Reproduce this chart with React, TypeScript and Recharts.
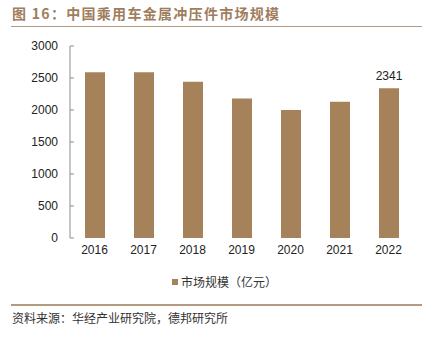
import { BarChart, Bar, XAxis, YAxis, LabelList } from 'recharts';

const years = ['2016', '2017', '2018', '2019', '2020', '2021', '2022'];
const marketSize = [2590, 2590, 2440, 2180, 2000, 2130, 2341];
const yTicks = [0, 500, 1000, 1500, 2000, 2500, 3000];
const boundaryTicks = [0, 1, 2, 3, 4, 5, 6, 7];

const BAR_COLOR = '#a6825a';
const BROWN = '#a07d5d';
const AXIS = '#8c8c8c';
const NUM_FONT = '"Liberation Sans", Arial, sans-serif';
const CJK_FONT = '"Noto Sans CJK SC", "Noto Sans", sans-serif';

const data = years.map((year, i) => ({
  year,
  i: i + 0.5,
  value: marketSize[i],
}));

export default function App() {
  return (
    <div style={{ position: 'absolute', left: 0, top: 0, width: 436, height: 338, background: '#fff', overflow: 'hidden' }}>
      <div
        style={{
          position: 'absolute',
          left: 12,
          top: 3,
          fontFamily: CJK_FONT,
          fontSize: 14,
          fontWeight: 700,
          color: BROWN,
          lineHeight: '20px',
          letterSpacing: 1.3,
        }}
      >
        图 16：中国乘用车金属冲压件市场规模
      </div>
      <div style={{ position: 'absolute', left: 11, top: 26, width: 411, height: 0, borderTop: '1.5px solid #b39a82' }} />

      <BarChart
        width={436}
        height={338}
        data={data}
        margin={{ top: 46, right: 23, left: 0, bottom: 70 }}
      >
        <XAxis
          dataKey="year"
          height={30}
          axisLine={false}
          tickLine={false}
          tickSize={6}
          tickMargin={1}
          interval={0}
          tick={{ fill: '#222', fontSize: 12, fontFamily: NUM_FONT }}
        />
        <XAxis
          xAxisId="edges"
          dataKey="i"
          type="number"
          domain={[0, 7]}
          ticks={boundaryTicks}
          tick={false}
          tickSize={-4}
          height={0}
          axisLine={{ stroke: AXIS }}
          tickLine={{ stroke: AXIS }}
        />
        <YAxis
          width={70}
          domain={[0, 3000]}
          ticks={yTicks}
          interval={0}
          tickSize={-4}
          tickMargin={16}
          axisLine={{ stroke: AXIS }}
          tickLine={{ stroke: AXIS }}
          tick={{ fill: '#222', fontSize: 12, fontFamily: NUM_FONT }}
        />
        <Bar dataKey="value" fill={BAR_COLOR} barSize={20} isAnimationActive={false}>
          <LabelList
            dataKey="value"
            position="top"
            offset={8}
            formatter={(v: any) => (v === 2341 ? String(v) : '')}
            style={{ fill: '#222', fontSize: 12, fontFamily: NUM_FONT }}
          />
        </Bar>
      </BarChart>

      <div
        style={{
          position: 'absolute',
          left: 172,
          top: 273,
          display: 'flex',
          alignItems: 'center',
          fontFamily: CJK_FONT,
          fontSize: 12,
          color: '#333',
          lineHeight: '18px',
        }}
      >
        <span style={{ display: 'inline-block', width: 6, height: 6, background: BAR_COLOR, marginRight: 3 }} />
        市场规模（亿元）
      </div>

      <div style={{ position: 'absolute', left: 11, top: 304, width: 411, height: 0, borderTop: '2px solid #b39a82' }} />
      <div
        style={{
          position: 'absolute',
          left: 12,
          top: 310,
          fontFamily: CJK_FONT,
          fontSize: 12,
          color: '#333',
          lineHeight: '16px',
        }}
      >
        资料来源：华经产业研究院，德邦研究所
      </div>
    </div>
  );
}
